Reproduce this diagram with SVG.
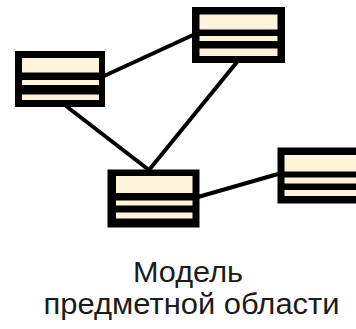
<svg xmlns="http://www.w3.org/2000/svg" width="356" height="329" viewBox="0 0 356 329">
<style>
.frame{fill:#000}
.band{fill:#fdf4da}
.edge{stroke:#000;stroke-width:4;stroke-linecap:butt;fill:none}
.lbl{font-family:"Liberation Sans",Arial,sans-serif;font-size:29px;fill:#1c1c1c;text-anchor:middle}
</style>
<rect width="356" height="329" fill="#fff"/>
<g id="connectors">
<line class="edge" x1="104" y1="76" x2="193" y2="35"/>
<line class="edge" x1="66" y1="106" x2="149" y2="170"/>
<line class="edge" x1="237" y1="62" x2="149" y2="170"/>
<line class="edge" x1="198" y1="197" x2="278" y2="174"/>
</g>
<g id="node1">
<rect class="frame" x="15" y="51" width="90" height="56"/>
<rect class="band" x="22" y="58" width="77" height="14.5"/>
<rect class="band" x="22" y="80" width="77" height="5"/>
<rect class="band" x="22" y="94.5" width="77" height="5.5"/>
</g>
<g id="node2">
<rect class="frame" x="192" y="7" width="93" height="56"/>
<rect class="band" x="199.5" y="14.5" width="78" height="15"/>
<rect class="band" x="199.5" y="36" width="78" height="5"/>
<rect class="band" x="199.5" y="48.5" width="78" height="7.5"/>
</g>
<g id="node3">
<rect class="frame" x="107.5" y="169.5" width="92" height="58"/>
<rect class="band" x="116" y="176" width="76.5" height="17"/>
<rect class="band" x="116" y="200.5" width="76.5" height="5"/>
<rect class="band" x="116" y="212.5" width="76.5" height="6"/>
</g>
<g id="node4">
<rect class="frame" x="277.5" y="147.5" width="92" height="56"/>
<rect class="band" x="284.5" y="155" width="80" height="16.5"/>
<rect class="band" x="284.5" y="177.5" width="80" height="6"/>
<rect class="band" x="284.5" y="190" width="80" height="6"/>
</g>
<g id="caption">
<text class="lbl" x="188" y="282" textLength="110" lengthAdjust="spacingAndGlyphs">Модель</text>
<text class="lbl" x="191.5" y="314" textLength="296" lengthAdjust="spacingAndGlyphs">предметной области</text>
</g>
</svg>
